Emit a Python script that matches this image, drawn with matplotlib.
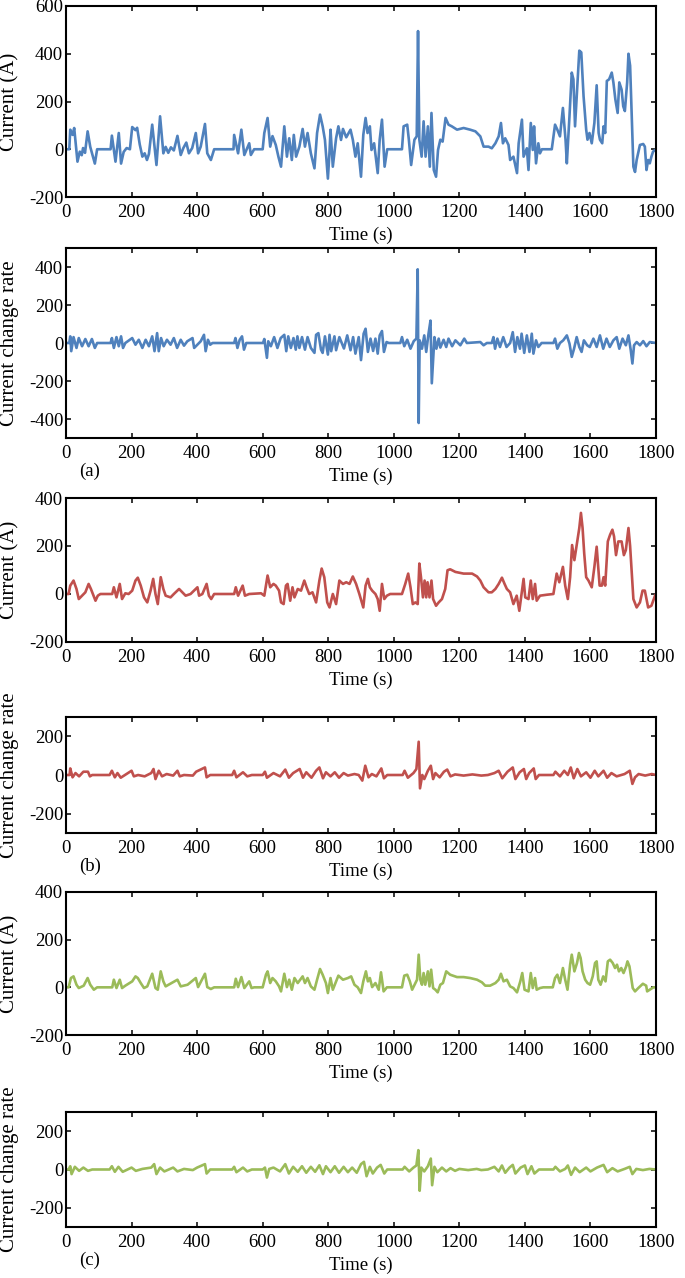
"""Current and current change rate traces for three filtered signals (a)-(c)."""

import matplotlib
matplotlib.use("Agg")
import matplotlib.pyplot as plt

W_PX, H_PX = 685, 1278

plt.rcParams.update({
    "font.family":        ["Liberation Serif", "DejaVu Serif"],
    "font.size":          13,
    "axes.unicode_minus": False,
    "axes.linewidth":     1.5,
    "xtick.direction":    "in",
    "ytick.direction":    "in",
    "xtick.top":          True,
    "ytick.right":        True,
    "xtick.major.size":   3.8,
    "ytick.major.size":   3.8,
    "xtick.major.width":  1.1,
    "ytick.major.width":  1.1,
    "xtick.labelsize":    13.5,
    "ytick.labelsize":    13.5,
})

# ── Data: (time s, value) ────────────────────────────────────────────────────
CUR_A = [
    (0, 0), (10, 0), (13, 82), (20, 60), (25, 89), (35, -52), (42, -10), (48, -25),
    (52, 5), (58, -15), (66, 75), (74, 10), (80, -20), (88, -60), (95, 0), (136, 0),
    (140, 57), (151, -52), (161, 68), (168, -60), (176, -11), (185, 5), (195, 0),
    (202, 93), (212, 80), (217, 90), (225, 20), (233, -31), (240, -17), (247, -45),
    (253, -20), (263, 103), (276, -66), (287, 138), (297, -17), (304, 10), (312, -15),
    (320, 8), (329, -5), (340, 56), (350, -24), (358, 5), (367, 28), (375, -17),
    (385, 5), (396, 68), (403, -17), (411, 11), (424, 106), (431, -17), (442, -45),
    (452, 0), (511, 0), (513, 60), (525, -17), (535, 82), (544, -24), (559, 25),
    (564, -24), (574, 0), (600, 0), (605, 68), (615, 131), (623, 11), (630, 55),
    (640, 18), (648, -31), (656, -73), (661, 11), (666, 96), (674, -31), (681, 46),
    (689, -45), (695, 60), (702, -31), (712, 11), (722, 85), (729, 11), (737, 68),
    (747, -17), (758, -80), (766, 68), (775, 145), (783, 96), (790, 39), (799, -123),
    (804, -10), (807, 82), (814, -73), (824, 46), (831, 96), (839, 39), (845, 85),
    (855, 50), (868, 82), (875, 40), (883, -31), (890, 25), (900, -115), (907, 60),
    (914, 131), (920, 68), (927, 96), (932, -3), (940, 25), (951, -100), (957, 40),
    (964, 124), (972, -73), (980, 0), (1025, 0), (1030, 96), (1041, 103), (1046, 40),
    (1053, -66), (1063, 40), (1070, 54), (1074, 495), (1078, 40), (1085, -31),
    (1091, 117), (1097, -31), (1104, 96), (1110, -73), (1115, 152), (1122, -87),
    (1129, -115), (1135, -3), (1142, 40), (1149, 32), (1158, 131), (1167, 103),
    (1177, 96), (1193, 82), (1213, 89), (1233, 82), (1249, 75), (1264, 54),
    (1274, 11), (1289, 11), (1299, 4), (1310, 25), (1320, 54), (1327, 110),
    (1333, 25), (1340, 46), (1350, 18), (1355, -45), (1365, -31), (1376, -100),
    (1381, 25), (1391, 124), (1396, -31), (1406, 4), (1411, -87), (1418, 110),
    (1424, -3), (1428, 96), (1434, -59), (1441, 25), (1446, -17), (1452, 0),
    (1482, 0), (1492, 103), (1499, 82), (1507, 54), (1516, 173), (1524, 40),
    (1528, -59), (1536, 138), (1543, 321), (1548, 293), (1553, 96), (1560, 265),
    (1566, 413), (1572, 406), (1579, 222), (1587, 82), (1591, 40), (1597, 68),
    (1604, 25), (1612, 110), (1619, 268), (1625, 68), (1629, 40), (1636, 25),
    (1640, 96), (1645, 68), (1650, 286), (1657, 293), (1665, 321), (1670, 280),
    (1676, 209), (1683, 152), (1688, 280), (1695, 250), (1700, 180), (1705, 160),
    (1712, 280), (1716, 400), (1721, 350), (1731, -73), (1736, -95), (1741, -45),
    (1751, 18), (1761, 22), (1766, 11), (1771, -87), (1776, -45), (1781, -59),
    (1786, -31), (1791, -10), (1800, 0),
]

RATE_A = [
    (0, 0), (10, 0), (13, 35), (16, -43), (23, 31), (32, -26), (39, 26), (49, -17),
    (59, 21), (69, -17), (79, 21), (88, -26), (95, 0), (136, 0), (140, 26), (146, -26),
    (154, 31), (161, -17), (168, 35), (174, -26), (181, 0), (202, 26), (212, -9),
    (222, 17), (233, -26), (243, 17), (253, -17), (263, 35), (270, -43), (278, 52),
    (283, -43), (290, 26), (298, -17), (308, 17), (319, -9), (329, 26), (339, -26),
    (350, 17), (360, -14), (370, 9), (386, 26), (391, -26), (411, 9), (421, 43),
    (426, -43), (433, 17), (440, -9), (447, 0), (513, 0), (517, 26), (523, -26),
    (530, 17), (537, 35), (543, -35), (550, 0), (601, 0), (605, 21), (613, -78),
    (617, 9), (625, -17), (635, 31), (645, -26), (655, 26), (666, 43), (672, -43),
    (678, 35), (686, -26), (694, 26), (701, -35), (706, 35), (712, -26), (720, 31),
    (729, -35), (737, 31), (747, -26), (758, -52), (763, 43), (770, 52), (778, -35),
    (783, -52), (790, 35), (799, -61), (804, 43), (809, -43), (819, 35), (824, -38),
    (834, 31), (838, 14), (848, -29), (858, 40), (868, -38), (876, 31), (883, -56),
    (893, 31), (900, -90), (908, 49), (914, 75), (921, -47), (929, 23), (937, -42),
    (944, 23), (951, -56), (957, 40), (964, 63), (970, -47), (978, 5), (985, 0),
    (1020, 0), (1025, 31), (1032, -17), (1041, 17), (1051, -30), (1061, 10),
    (1069, 23), (1073, 388), (1076, -421), (1079, 14), (1086, -30), (1093, 40),
    (1099, -47), (1106, 49), (1112, 118), (1116, -212), (1120, -90), (1124, 31),
    (1130, -30), (1137, 23), (1142, -24), (1152, 17), (1160, -21), (1167, 23),
    (1178, -17), (1188, 14), (1203, -12), (1215, 23), (1223, 0), (1264, 5),
    (1274, -12), (1284, 0), (1299, 0), (1304, 31), (1309, -30), (1316, 23),
    (1324, -21), (1334, 31), (1344, -21), (1355, 0), (1363, 57), (1370, -47),
    (1377, 31), (1385, -30), (1390, 49), (1398, -52), (1406, 40), (1414, -47),
    (1421, 49), (1426, -56), (1434, 14), (1441, -21), (1451, 0), (1487, 0),
    (1492, 23), (1499, -30), (1507, 0), (1517, 14), (1528, 40), (1536, -3),
    (1543, -73), (1550, -30), (1558, 31), (1566, -21), (1573, -47), (1580, 14),
    (1590, -12), (1598, -21), (1609, 23), (1619, -21), (1629, 40), (1639, -30),
    (1649, 23), (1659, -21), (1670, 14), (1680, 31), (1688, -30), (1698, 23),
    (1708, -12), (1716, 40), (1723, -38), (1728, -108), (1733, -12), (1741, 5),
    (1751, -12), (1761, 10), (1771, -17), (1781, 5), (1800, 0),
]

CUR_B = [
    (0, 0), (8, 0), (13, 35), (23, 56), (32, 21), (39, -21), (49, -7), (59, 7),
    (69, 42), (76, 21), (90, -28), (97, -7), (105, 0), (141, 0), (146, 28), (154, -14),
    (164, 42), (171, -21), (181, 3), (191, 0), (202, 14), (212, 56), (219, 68),
    (228, 35), (238, -14), (248, -35), (258, 14), (266, 63), (273, 0), (280, -42),
    (289, 70), (297, 21), (304, -7), (319, -14), (329, 0), (345, 21), (355, 7),
    (365, -7), (380, 0), (401, 28), (406, -7), (416, 0), (429, 42), (436, -7),
    (443, -21), (452, 0), (513, 0), (518, 28), (525, -7), (539, 35), (546, -7),
    (559, 0), (595, 3), (605, -7), (615, 77), (623, 28), (633, 42), (640, 35),
    (650, 14), (656, -35), (664, -42), (671, 35), (676, 42), (684, -28), (691, 28),
    (697, -14), (707, 21), (717, 14), (727, 56), (734, 28), (742, 0), (752, 7),
    (763, -35), (773, 56), (780, 106), (788, 70), (797, -35), (804, -56), (809, -28),
    (814, 0), (824, -42), (834, 56), (845, 42), (855, 49), (865, 42), (875, 73),
    (885, 42), (895, 0), (907, -56), (914, 35), (921, 63), (927, 28), (934, 14),
    (944, 0), (951, -21), (957, -70), (964, 42), (971, -21), (979, -7), (989, 0),
    (1025, 0), (1035, 42), (1044, 85), (1051, 28), (1058, -42), (1066, -35),
    (1073, -42), (1078, 127), (1083, 70), (1089, -14), (1094, 56), (1099, -14),
    (1103, 49), (1109, -14), (1115, 56), (1120, -21), (1129, -49), (1137, -35),
    (1147, -21), (1157, 21), (1164, 99), (1172, 103), (1188, 92), (1213, 85),
    (1239, 85), (1254, 73), (1264, 56), (1274, 28), (1289, 7), (1299, 7), (1310, 21),
    (1320, 42), (1330, 68), (1338, 42), (1345, 21), (1355, 7), (1365, -42),
    (1375, -7), (1383, -70), (1391, 14), (1396, 63), (1401, -14), (1411, -21),
    (1418, 56), (1424, -21), (1431, 42), (1436, -28), (1446, -7), (1467, -3),
    (1487, 0), (1497, 85), (1505, 49), (1516, 113), (1523, 35), (1531, -21),
    (1538, 70), (1544, 204), (1551, 141), (1558, 204), (1566, 275), (1571, 338),
    (1576, 275), (1581, 169), (1587, 70), (1594, 56), (1604, 28), (1612, 113),
    (1619, 197), (1628, 35), (1635, 35), (1640, 70), (1645, 35), (1653, 219),
    (1660, 247), (1667, 268), (1672, 240), (1678, 162), (1685, 219), (1695, 219),
    (1702, 162), (1708, 183), (1716, 275), (1721, 200), (1731, -21), (1741, -56),
    (1751, -35), (1759, 14), (1766, 14), (1776, -56), (1786, -49), (1797, -7),
    (1800, 0),
]

RATE_B = [
    (0, 0), (11, 0), (13, 34), (20, -12), (29, 10), (40, -7), (53, 17), (67, 17),
    (73, -7), (80, 0), (133, 0), (140, 22), (149, -12), (157, 10), (167, -14),
    (180, 0), (200, 22), (207, -7), (220, 0), (240, -7), (260, 10), (267, 31),
    (273, -21), (283, 22), (293, -7), (307, 5), (327, -3), (340, 22), (347, -7),
    (360, 0), (387, -3), (397, 17), (424, 39), (429, -12), (440, 0), (507, 0),
    (513, 22), (520, -12), (540, 14), (553, -7), (567, 0), (600, 0), (607, 17),
    (613, -14), (633, 10), (653, -7), (669, 28), (680, -14), (693, 10), (713, 31),
    (723, -14), (733, 14), (749, -14), (763, 22), (773, 39), (784, -17), (793, 14),
    (807, -7), (820, 14), (833, -14), (847, 10), (860, -3), (880, 5), (893, 0),
    (904, -29), (913, 48), (923, -12), (933, 5), (947, -7), (962, 34), (970, -17),
    (980, 0), (1027, 0), (1033, 22), (1043, -14), (1060, 10), (1069, 31),
    (1076, 172), (1080, -69), (1087, 0), (1093, -21), (1104, 22), (1113, 48),
    (1120, -21), (1127, 10), (1140, -12), (1153, 17), (1163, 28), (1173, -7),
    (1187, 3), (1213, -3), (1240, 3), (1267, -3), (1287, 0), (1307, 10), (1320, 22),
    (1331, -17), (1347, 17), (1363, 39), (1371, -21), (1384, 14), (1397, 31),
    (1404, -21), (1413, 10), (1427, 34), (1433, -21), (1443, 0), (1487, 0),
    (1493, 17), (1507, -7), (1520, 22), (1531, 0), (1540, 39), (1549, -17),
    (1560, 31), (1571, -7), (1587, 14), (1600, -14), (1613, 22), (1624, -7),
    (1640, 22), (1651, -14), (1664, 10), (1680, -7), (1704, 5), (1720, 22),
    (1728, -46), (1736, -12), (1747, 5), (1767, -3), (1787, 5), (1800, 0),
]

CUR_C = [
    (0, 0), (8, 0), (15, 39), (23, 46), (32, 11), (39, -3), (54, 7), (66, 39),
    (74, 11), (85, -10), (95, 0), (141, 0), (146, 32), (154, -3), (164, 32),
    (171, -3), (181, 7), (202, 25), (212, 46), (219, 39), (228, 18), (238, -3),
    (248, 4), (263, 57), (273, -3), (280, -10), (289, 67), (297, 25), (304, 4),
    (340, 32), (350, 4), (371, 11), (396, 39), (403, 1), (424, 57), (431, 1),
    (442, -7), (452, 0), (513, 0), (518, 36), (525, 1), (535, 43), (544, -3),
    (559, 25), (566, -3), (574, 0), (600, 0), (610, 53), (615, 67), (623, 18),
    (630, 39), (640, 25), (650, 4), (656, -17), (666, 57), (674, 1), (681, 32),
    (689, -10), (697, 39), (707, 18), (722, 46), (729, 18), (737, 39), (747, 4),
    (758, -10), (766, 32), (775, 77), (783, 53), (793, 18), (799, -24), (807, 39),
    (814, -10), (824, 25), (831, 49), (845, 32), (860, 39), (870, 46), (880, 11),
    (890, 0), (900, -24), (907, 25), (915, 67), (921, 25), (927, 39), (934, 1),
    (944, 18), (954, -10), (961, 63), (969, -17), (979, 0), (1025, 0), (1032, 49),
    (1041, 53), (1049, 25), (1056, -10), (1066, 18), (1071, 32), (1076, 137),
    (1081, 32), (1086, 11), (1091, 60), (1096, 11), (1104, 67), (1109, 4),
    (1114, 74), (1120, -3), (1127, -10), (1134, -21), (1142, 11), (1150, 18),
    (1160, 67), (1172, 53), (1193, 43), (1213, 43), (1233, 39), (1254, 32),
    (1269, 21), (1279, 7), (1294, 7), (1310, 18), (1320, 32), (1327, 57),
    (1335, 25), (1345, 32), (1355, 4), (1365, -3), (1376, -21), (1386, 25),
    (1392, 60), (1399, -10), (1411, -17), (1418, 60), (1424, -3), (1431, 39),
    (1436, -10), (1446, -3), (1456, 0), (1485, 0), (1492, 39), (1499, 53),
    (1507, 18), (1516, 81), (1523, 32), (1530, -10), (1538, 95), (1543, 137),
    (1551, 67), (1559, 102), (1565, 144), (1570, 123), (1576, 67), (1584, 32),
    (1591, 18), (1599, 11), (1607, 46), (1614, 102), (1619, 109), (1624, 32),
    (1631, 11), (1639, 46), (1646, 25), (1653, 109), (1660, 116), (1668, 102),
    (1675, 81), (1681, 95), (1687, 67), (1694, 81), (1701, 60), (1709, 88),
    (1713, 109), (1719, 88), (1729, -3), (1736, -17), (1746, -3), (1760, 15),
    (1770, 7), (1773, -17), (1781, -10), (1792, 0), (1800, 0),
]

RATE_C = [
    (0, 0), (8, 0), (13, 17), (17, -24), (27, 14), (40, -7), (53, 10), (67, -7),
    (80, 0), (133, 0), (140, 17), (149, -12), (160, 14), (173, -12), (200, 10),
    (213, -7), (233, 3), (260, 10), (269, 28), (276, -24), (287, 10), (300, -10),
    (327, 10), (340, -10), (360, 3), (387, -3), (400, 10), (424, 28), (429, -21),
    (440, 0), (507, 0), (513, 14), (520, -14), (540, 10), (553, -10), (567, 0),
    (600, 0), (607, 10), (613, -42), (620, 3), (633, 10), (653, -10), (669, 28),
    (680, -21), (693, 14), (707, -12), (720, 17), (733, -17), (747, 14), (760, -12),
    (773, 22), (784, -24), (793, 17), (807, -14), (820, 17), (833, -17), (847, 14),
    (860, -14), (873, 10), (887, -17), (900, 28), (909, 40), (917, -35), (927, 14),
    (936, -21), (949, 10), (960, 24), (971, -21), (980, 0), (1027, 0), (1033, 14),
    (1047, -10), (1060, 10), (1069, 21), (1075, 101), (1079, -111), (1084, 10),
    (1093, -10), (1104, 17), (1113, 57), (1117, -82), (1124, 14), (1133, -14),
    (1147, 10), (1160, -10), (1173, 7), (1187, -7), (1200, 3), (1227, -3),
    (1253, 3), (1267, -3), (1287, 0), (1307, 14), (1320, -10), (1330, 21),
    (1340, -17), (1353, 10), (1363, 24), (1371, -21), (1387, 10), (1400, 21),
    (1408, -24), (1420, 17), (1429, -21), (1443, 0), (1487, 0), (1493, 14),
    (1507, -10), (1523, 3), (1531, 21), (1541, -28), (1553, 10), (1567, -14),
    (1587, 10), (1600, -10), (1620, 10), (1640, 24), (1651, -14), (1667, 7),
    (1683, -10), (1704, 3), (1720, 14), (1728, -24), (1740, 3), (1760, -3),
    (1780, 3), (1800, 0),
]

X_TICKS = list(range(0, 1801, 200))
CUR_LABEL = "Current (A)"
RATE_LABEL = "Current change rate"

BLUE, RED, GREEN = "#4f81bd", "#c0504d", "#9bbb59"

# (series, colour, ylim, yticks, ylabel, tag, top px, bottom px)
PANELS = [
    (CUR_A,  BLUE,  (-200, 600), [-200, 0, 200, 400, 600],        CUR_LABEL,  None,  6,    197),
    (RATE_A, BLUE,  (-500, 500), [-400, -200, 0, 200, 400],       RATE_LABEL, "(a)", 248,  438),
    (CUR_B,  RED,   (-200, 400), [-200, 0, 200, 400],             CUR_LABEL,  None,  498,  642),
    (RATE_B, RED,   (-300, 300), [-200, 0, 200],                  RATE_LABEL, "(b)", 717,  833),
    (CUR_C,  GREEN, (-200, 400), [-200, 0, 200, 400],             CUR_LABEL,  None,  892,  1035),
    (RATE_C, GREEN, (-300, 300), [-200, 0, 200],                  RATE_LABEL, "(c)", 1112, 1227),
]

AX_LEFT, AX_RIGHT = 66, 656


def main() -> None:
    fig = plt.figure(figsize=(W_PX / 100, H_PX / 100), dpi=100)

    for series, color, ylim, yticks, ylabel, tag, top, bottom in PANELS:
        h = bottom - top
        w = AX_RIGHT - AX_LEFT
        ax = fig.add_axes([AX_LEFT / W_PX, 1 - bottom / H_PX, w / W_PX, h / H_PX])

        t = [p[0] for p in series]
        v = [p[1] for p in series]
        ax.plot(t, v, color=color, linewidth=1.9, solid_joinstyle="round")

        ax.set_xlim(0, 1800)
        ax.set_ylim(*ylim)
        ax.set_xticks(X_TICKS)
        ax.set_yticks(yticks)
        ax.tick_params(axis="x", pad=5)
        ax.tick_params(axis="y", pad=2)

        ax.set_xlabel("Time (s)", fontsize=13.5)
        ax.xaxis.set_label_coords(0.5, -38 / h)
        ax.xaxis.label.set_va("center")

        ax.set_ylabel(ylabel, fontsize=15)
        ax.yaxis.set_label_coords((10 - AX_LEFT) / w, 0.5)
        ax.yaxis.label.set_va("center")

        if tag:
            ax.text((90 - AX_LEFT) / w, -33 / h, tag, transform=ax.transAxes,
                    ha="center", va="center", fontsize=13.5)

    fig.savefig("out.png", dpi=100)
    plt.close(fig)


if __name__ == "__main__":
    main()
